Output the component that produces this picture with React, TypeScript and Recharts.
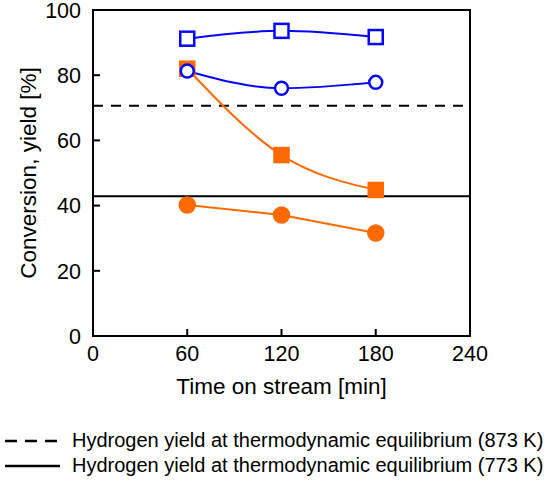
import React from "react";
import {
  ComposedChart,
  Line,
  XAxis,
  YAxis,
  ReferenceLine,
  ReferenceArea,
  Label,
} from "recharts";

const times = [60, 120, 180];
const blueSquares = [91.2, 93.6, 91.7];
const blueCircles = [81.3, 76.0, 77.8];
const orangeSquares = [82.0, 55.5, 44.8];
const orangeCircles = [40.2, 37.1, 31.6];
const eq873 = 70.6;
const eq773 = 42.9;
const xTicks = [0, 60, 120, 180, 240];
const yTicks = [0, 20, 40, 60, 80, 100];
const legendLabels = [
  "Hydrogen yield at thermodynamic equilibrium (873 K)",
  "Hydrogen yield at thermodynamic equilibrium (773 K)",
];

const BLUE = "#0505ff";
const ORANGE = "#ff6a00";
const FONT = "'Liberation Sans', Arial, sans-serif";
const TICK_MARGIN_X = 10;
const TICK_MARGIN_Y = 12;
const TICK_LEN = 7;

const data = times.map((t, i) => ({
  time: t,
  bs: blueSquares[i],
  bc: blueCircles[i],
  os: orangeSquares[i],
  oc: orangeCircles[i],
}));

// ticks point into the plot, labels stay outside
function XTick(props: any) {
  const { x, y, payload } = props;
  const axisY = y - TICK_MARGIN_X;
  return (
    <g>
      <line x1={x} x2={x} y1={axisY} y2={axisY - TICK_LEN} stroke="#000" strokeWidth={2} />
      <text x={x} y={y} dy="0.72em" textAnchor="middle" fontSize={21.5} fontFamily={FONT} fill="#000">
        {payload.value}
      </text>
    </g>
  );
}

function YTick(props: any) {
  const { x, y, payload } = props;
  const axisX = x + TICK_MARGIN_Y;
  return (
    <g>
      <line x1={axisX} x2={axisX + TICK_LEN} y1={y} y2={y} stroke="#000" strokeWidth={2} />
      <text x={x} y={y} dy="0.36em" textAnchor="end" fontSize={21.5} fontFamily={FONT} fill="#000">
        {payload.value}
      </text>
    </g>
  );
}

function YLabel(props: any) {
  const vb = props.viewBox;
  const cx = vb.x + 28;
  const cy = vb.y + vb.height / 2;
  return (
    <text
      x={cx}
      y={cy}
      transform={`rotate(-90 ${cx} ${cy})`}
      textAnchor="middle"
      dominantBaseline="central"
      fontSize={22.5}
      fontFamily={FONT}
      fill="#000"
    >
      Conversion, yield [%]
    </text>
  );
}

const squareDot = (color: string, filled: boolean) => (p: any) => (
  <rect
    key={`s-${color}-${p.index}`}
    x={p.cx - 7}
    y={p.cy - 7}
    width={14}
    height={14}
    fill={filled ? color : "#fff"}
    stroke={color}
    strokeWidth={2.5}
  />
);

const circleDot = (color: string, filled: boolean) => (p: any) => (
  <circle
    key={`c-${color}-${p.index}`}
    cx={p.cx}
    cy={p.cy}
    r={filled ? 7.5 : 6.5}
    fill={filled ? color : "#fff"}
    stroke={color}
    strokeWidth={2.5}
  />
);

function ChartLegend() {
  return (
    <div style={{ position: "absolute", left: 0, top: 428, fontFamily: FONT, fontSize: 20 }}>
      {legendLabels.map((label, i) => (
        <div key={label} style={{ display: "flex", alignItems: "center", height: 25 }}>
          <svg width={72} height={10} style={{ flexShrink: 0 }}>
            <line
              x1={5}
              x2={i === 0 ? 57 : 60}
              y1={5}
              y2={5}
              stroke="#000"
              strokeWidth={2.5}
              strokeDasharray={i === 0 ? "12 8" : undefined}
            />
          </svg>
          <span style={{ color: "#000", whiteSpace: "nowrap" }}>{label}</span>
        </div>
      ))}
    </div>
  );
}

export default function App() {
  return (
    <div style={{ position: "absolute", left: 0, top: 0, width: 550, height: 483, background: "#fff" }}>
      <ComposedChart
        width={550}
        height={483}
        data={data}
        margin={{ top: 10, right: 80, bottom: 87, left: 0 }}
      >
        <XAxis
          dataKey="time"
          type="number"
          domain={[0, 240]}
          ticks={xTicks}
          tickSize={0}
          tickMargin={TICK_MARGIN_X}
          tick={<XTick />}
          axisLine={{ stroke: "#000", strokeWidth: 2 }}
          height={60}
        >
          <Label
            value="Time on stream [min]"
            position="insideBottom"
            offset={2}
            style={{ fontSize: 22.5, fontFamily: FONT, fill: "#000" }}
          />
        </XAxis>
        <YAxis
          type="number"
          domain={[0, 100]}
          ticks={yTicks}
          tickSize={0}
          tickMargin={TICK_MARGIN_Y}
          tick={<YTick />}
          axisLine={{ stroke: "#000", strokeWidth: 2 }}
          width={93}
        >
          <Label content={<YLabel />} />
        </YAxis>
        <ReferenceArea
          x1={0}
          x2={240}
          y1={0}
          y2={100}
          fill="none"
          stroke="#000"
          strokeWidth={2}
        />
        <ReferenceLine y={eq873} stroke="#000" strokeWidth={2} strokeDasharray="10 8" />
        <ReferenceLine y={eq773} stroke="#000" strokeWidth={2} />
        <Line
          type="linear"
          dataKey="oc"
          stroke={ORANGE}
          strokeWidth={2}
          dot={circleDot(ORANGE, true)}
          isAnimationActive={false}
        />
        <Line
          type="monotone"
          dataKey="os"
          stroke={ORANGE}
          strokeWidth={2}
          dot={squareDot(ORANGE, true)}
          isAnimationActive={false}
        />
        <Line
          type="monotone"
          dataKey="bs"
          stroke={BLUE}
          strokeWidth={2}
          dot={squareDot(BLUE, false)}
          isAnimationActive={false}
        />
        <Line
          type="monotone"
          dataKey="bc"
          stroke={BLUE}
          strokeWidth={2}
          dot={circleDot(BLUE, false)}
          isAnimationActive={false}
        />
      </ComposedChart>
      <ChartLegend />
    </div>
  );
}
